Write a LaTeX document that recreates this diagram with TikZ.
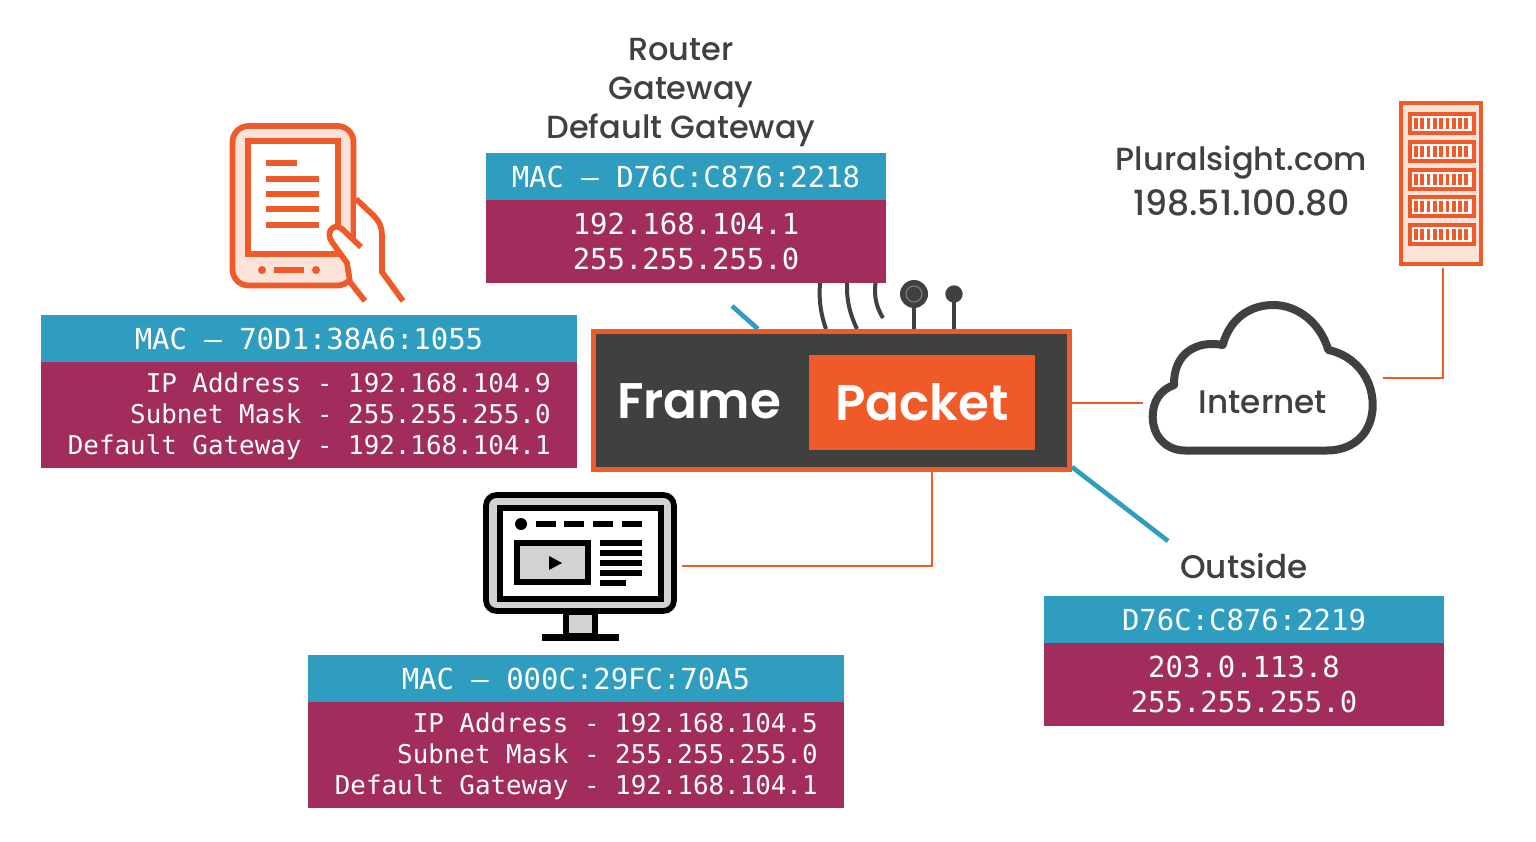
\documentclass[tikz,border=0pt]{standalone}
\usepackage{fontspec}
\setmainfont{Poppins}
\setmonofont{DejaVu Sans Mono}
\newfontfamily\headfont{Poppins Medium}
\newfontfamily\framefont{Poppins SemiBold}
\usetikzlibrary{positioning,calc}
\definecolor{linkteal}{HTML}{2E9DBF}
\definecolor{ipmaroon}{HTML}{A22D5C}
\definecolor{psorange}{HTML}{F05A28}
\definecolor{paleorange}{HTML}{FBE3DA}
\definecolor{darkgrey}{HTML}{404040}
\definecolor{screengrey}{HTML}{D2D2D2}
\newcommand{\ipstrut}{\rule{0pt}{17.5pt}}
\tikzset{
  macbar/.style={fill=linkteal,text=white,font=\ttfamily\fontsize{21.7}{26}\selectfont,minimum height=35.25pt,inner sep=0pt,outer sep=0pt},
  ipbox/.style={fill=ipmaroon,text=white,font=\ttfamily\fontsize{19.4}{23.25}\selectfont,minimum width=402pt,minimum height=79.5pt,inner sep=0pt,outer sep=0pt,align=flush right,text width=362.5pt},
  ipshort/.style={fill=ipmaroon,text=white,font=\ttfamily\fontsize{21.7}{26.25}\selectfont,minimum width=300pt,minimum height=62.25pt,inner sep=0pt,outer sep=0pt,align=center},
  heading/.style={text=darkgrey,font=\headfont\fontsize{24}{29.25}\selectfont,align=center,inner sep=0pt},
  link/.style={psorange,line width=2.2pt},
  uplink/.style={linkteal,line width=3.5pt},
  iconbox/.style={minimum width=#1,inner sep=0pt,outer sep=0pt},
  icon/.style={psorange,line width=4.3pt},
  screenline/.style={black,line width=4.3pt},
  antenna/.style={darkgrey,line width=3pt}
}

\begin{document}
\begin{tikzpicture}[x=0.75pt,y=-0.75pt]
    \useasboundingbox (0,0) rectangle (1536,842);

    % antennas and stubs go under the router
    \draw[antenna] (821,275) .. controls (818,295) and (820,312) .. (826,329);
    \draw[antenna] (848,275) .. controls (845,295) and (849,312) .. (857,329);
    \draw[antenna] (877,275) .. controls (873,292) and (875,305) .. (883,318);
    \draw[antenna] (914,296) -- (914,330);
    \draw[antenna] (954,296) -- (954,330);
    \node[circle,fill=darkgrey,minimum size=21pt,inner sep=0pt] (mastbig) at (914,294) {};
    \node[circle,draw=gray,line width=0.8pt,fill=darkgrey,minimum size=12pt,inner sep=0pt] (mastring) at (914,294) {};
    \node[circle,fill=darkgrey,minimum size=13pt,inner sep=0pt] (mastsmall) at (954,294) {};

    % router
    \node[draw=psorange,fill=darkgrey,line width=3.75pt,minimum width=357pt,minimum height=103.5pt,inner sep=0pt,outer sep=auto] (router) at (831.5,400.5) {};
    \node[text=white,font=\framefont\fontsize{37.5}{38}\selectfont,inner sep=0pt] (frame) at (699,401) {Frame};
    \node[fill=psorange,text=white,font=\framefont\fontsize{37.5}{38}\selectfont,minimum width=169.5pt,minimum height=71.25pt,inner sep=0pt] (packet) at (922,402.5) {Packet};

    % free ends of the links
    \coordinate (lanstub) at (732,306);
    \coordinate (lanroot) at (758,329);
    \coordinate (wanroot) at (1072,467);
    \coordinate (wanstub) at (1168,541);
    \coordinate (cloudwest) at (1143,403);
    \coordinate (cloudeast) at (1383,378);
    \coordinate (routerdrop) at (932,472);
    \draw[uplink] (lanroot) -- (lanstub);
    \draw[uplink] (wanroot) -- (wanstub);

    % tablet
    \begin{scope}
      \draw[icon,fill=paleorange,rounded corners=12pt] (232.5,126) rectangle (353.5,285.5);
      \draw[icon,fill=white] (248,141) rectangle (338,254);
      \foreach \y in {179,194,209,225}
        \draw[icon] (266,\y) -- (319,\y);
      \draw[icon] (266,163) -- (297,163);
      \draw[icon] (274,270) -- (304,270);
      \fill[psorange] (262,270) circle (3pt) (316,270) circle (3pt);
      \fill[white] (356,199) -- (373,215) .. controls (380,222) and (382,228) .. (382,235) -- (382,272) -- (403,301) -- (365,301) -- (350,282) -- (348,263) -- (331,240) -- (335,227) -- (345,229) -- (356,240) -- cycle;
      \draw[icon] (356,199) -- (373,215) .. controls (380,222) and (382,228) .. (382,235) -- (382,272) -- (403,301);
      \draw[icon] (361,247) -- (342,229) .. controls (334,222) and (325,232) .. (332,242) -- (347,263) -- (350,282) -- (365,301);
    \end{scope}

    % desktop
    \begin{scope}
      \draw[screenline,fill=screengrey,rounded corners=8pt] (486,495) rectangle (674,611);
      \draw[screenline,fill=white] (500,508) rectangle (661,599);
      \fill[black] (521,524) circle (4.5pt);
      \foreach \x in {536,564,593,622}
        \draw[black,line width=4.5pt] (\x,524) -- ++(20,0);
      \draw[screenline,fill=screengrey] (517,543) rectangle (588,582);
      \fill[black] (549,556) -- (562,563) -- (549,570) -- cycle;
      \foreach \y in {543,553,563,573}
        \draw[black,line width=4.5pt] (600,\y) -- (642,\y);
      \draw[black,line width=4.5pt] (600,583) -- (626,583);
      \draw[screenline,fill=screengrey] (566,612) rectangle (595,636);
      \fill[black] (542,634) rectangle (619,641);
    \end{scope}
    \node[iconbox=153pt,minimum height=111pt] (desktop) at (580,566) {};

    % server rack
    \begin{scope}
      \draw[psorange,line width=3pt,fill=paleorange] (1401,103) rectangle (1481,264);
      \foreach \y in {113,140.5,168,195.5,223} {
        \draw[psorange,line width=3pt,fill=white] (1409.5,\y+1.5) rectangle (1473.5,\y+20.5);
        \foreach \n in {0,...,8}
          \fill[psorange] (1414+\n*6.3,\y+5.5) rectangle ++(3.8,11);
      }
    \end{scope}
    \node[iconbox=63pt,minimum height=125pt] (server) at (1441,184.5) {};

    % cloud
    \draw[darkgrey,line width=6pt,line join=round,fill=white] (1185,450.5) -- (1326.7,450.5)
      .. controls (1356.7,450.5) and (1372.7,430) .. (1372.7,405)
      .. controls (1372.7,376.7) and (1353.3,355) .. (1328.3,350)
      .. controls (1320,321.7) and (1296.7,305) .. (1273.3,305)
      .. controls (1250,305) and (1230,318.3) .. (1222.7,345)
      .. controls (1196.7,340) and (1173.3,353.3) .. (1174,385)
      .. controls (1160,390) and (1152.7,401.7) .. (1152.7,416.7)
      .. controls (1152.7,436.7) and (1166.7,450.5) .. (1185,450.5) -- cycle;
    \node[heading,font=\headfont\fontsize{24.5}{29}\selectfont] (internet) at (1263,402) {Internet};

    % orange links
    \draw[link] (router.east |- cloudwest) -- (cloudwest);
    \draw[link] (cloudeast) -| ([xshift=1.5pt]server.south);
    \draw[link] (routerdrop) |- (desktop.east);

    % headings
    \node[heading] (routername) at (681,93) {Router\\Gateway\\Default Gateway};
    \node[heading,font=\headfont\fontsize{24}{33.75}\selectfont] (sitename) at (1241.5,180.5) {Pluralsight.com\\{\fontsize{26}{33.75}\selectfont 198.51.100.80}};
    \node[heading,font=\headfont\fontsize{24.5}{29}\selectfont] (outside) at (1244,566) {Outside};

    % address boxes
    \node[macbar,minimum width=300pt] (routermac) at (686,176.5) {MAC – D76C:C876:2218};
    \node[ipshort,below=0pt of routermac] (routerip) {192.168.104.1\\255.255.255.0};

    \node[macbar,minimum width=402pt] (tabletmac) at (309,338.5) {MAC – 70D1:38A6:1055};
    \node[ipbox,below=0pt of tabletmac] (tabletip) {\ipstrut IP Address - 192.168.104.9\\Subnet Mask - 255.255.255.0\\Default Gateway - 192.168.104.1};

    \node[macbar,minimum width=402pt] (desktopmac) at (576,678.5) {MAC – 000C:29FC:70A5};
    \node[ipbox,below=0pt of desktopmac] (desktopip) {\ipstrut IP Address - 192.168.104.5\\Subnet Mask - 255.255.255.0\\Default Gateway - 192.168.104.1};

    \node[macbar,minimum width=300pt] (outsidemac) at (1244,619.5) {D76C:C876:2219};
    \node[ipshort,below=0pt of outsidemac] (outsideip) {203.0.113.8\\255.255.255.0};
  \end{tikzpicture}
\end{document}
